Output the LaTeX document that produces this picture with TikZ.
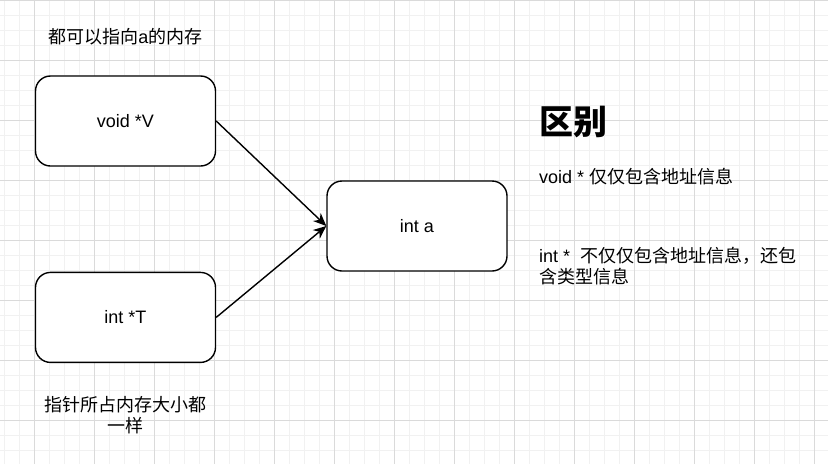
\documentclass[tikz,border=0pt]{standalone}
\usepackage{fontspec}
\setmainfont{Liberation Sans}
\newfontfamily\cjk{Noto Sans CJK SC}
\usetikzlibrary{positioning, arrows.meta}

\definecolor{gridminor}{RGB}{241,241,241}
\definecolor{gridmajor}{RGB}{218,218,218}

\tikzset{
	box/.style={draw, line width=1.4pt, rounded corners=15pt, fill=white,
		minimum width=180pt, minimum height=90pt, font=\fontsize{18}{22}\selectfont},
	note/.style={inner sep=0pt, align=center, font=\fontsize{18}{21}\selectfont},
	ptr/.style={line width=1.4pt, -{Stealth[length=13pt, width=11pt, inset=4pt]}},
}

\begin{document}
\begin{tikzpicture}[x=1pt, y=-1pt]
	
	% background grid
	\useasboundingbox (0,0) rectangle (828,464);
	\foreach \x in {4.7,19.7,...,828} \draw[gridminor, line width=1pt] (\x,0) -- (\x,464);
	\foreach \y in {15,30,...,464} \draw[gridminor, line width=1pt] (0,\y) -- (828,\y);
	\foreach \x in {34.7,94.7,...,828} \draw[gridmajor, line width=1pt] (\x,0) -- (\x,464);
	\foreach \y in {0,60,...,464} \draw[gridmajor, line width=1pt] (0,\y) -- (828,\y);
	
	% pointers
	\node[box] (V) at (125.5,121) {void *V};
	\node[box, below=105pt of V] (T) {int *T};
	\node[box] (A) at (417,226) {int a};
	
	\draw[ptr] (V.east) -- (A.west);
	\draw[ptr] (T.east) -- (A.west);
	
	% labels
	\node[note, above=30pt of V] (share) {{\cjk 都可以指向}a{\cjk 的内存}};
	\node[note, below=33pt of T] (size) {{\cjk 指针所占内存大小都}\\{\cjk 一样}};
	
	% right column
	\node[inner sep=0pt, anchor=west, font=\fontsize{34}{40}\selectfont\cjk\bfseries] (title) at (539,122) {区别};
	\node[note, anchor=west] (vdiff) at (539,177) {void *\ {\cjk 仅仅包含地址信息}};
	\node[note, anchor=north west, align=left] (idiff) at (539,247) {int *\ \ {\cjk 不仅仅包含地址信息，还包}\\{\cjk 含类型信息}};
	
\end{tikzpicture}
\end{document}
